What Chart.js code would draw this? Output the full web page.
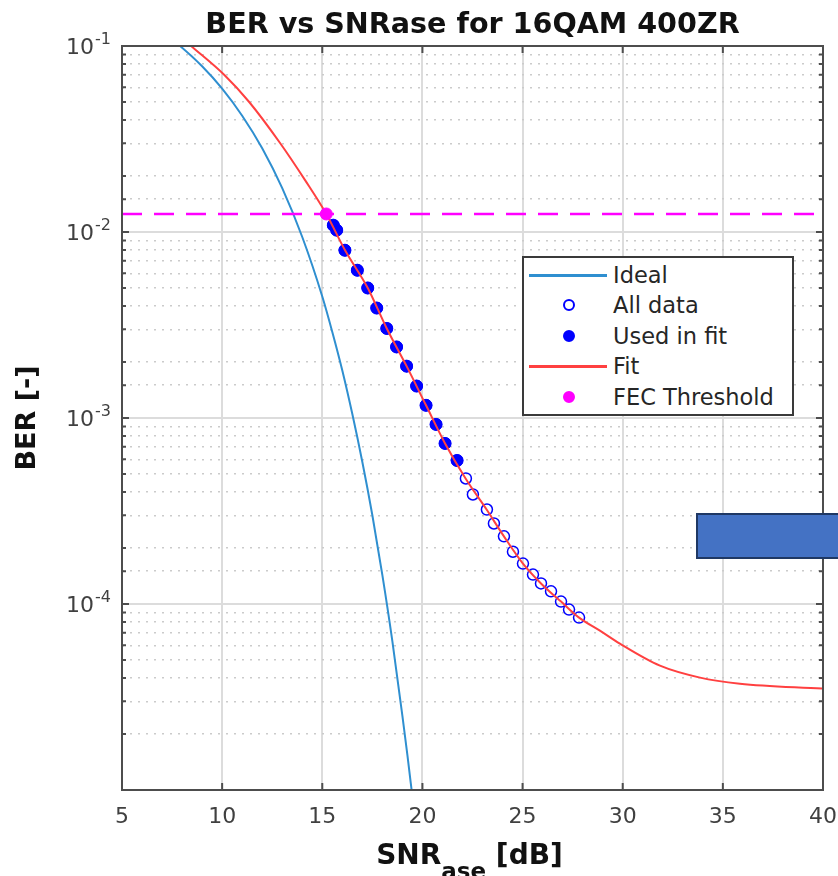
<!DOCTYPE html>
<html>
<head>
<meta charset="utf-8">
<script src="https://cdn.jsdelivr.net/npm/chart.js@4.4.1/dist/chart.umd.min.js"></script>
<style>
  html, body { margin: 0; padding: 0; background: #fff; }
  #wrap { position: relative; width: 838px; height: 876px; overflow: hidden; }
  #leyenda { position: absolute; left: 522px; top: 256px; width: 272px; height: 160px; box-sizing: border-box;
    border: 2px solid #3a3a3a; background: #fff; padding-top: 2px; font: 22.5px "DejaVu Sans", sans-serif; color: #262626; }
  .fila { position: relative; height: 30.4px; line-height: 30.4px; padding-left: 89px; white-space: nowrap; }
  .fila .linea { position: absolute; left: 5px; width: 78px; top: 14px; height: 2.5px; }
  .fila .marca { position: absolute; left: 39px; top: 9px; width: 12px; height: 12px; border-radius: 50%; box-sizing: border-box; }
  #caja { position: absolute; left: 696px; top: 513px; width: 160px; height: 46px; box-sizing: border-box;
    background: #4472c4; border: 2px solid #1f3864; }
</style>
</head>
<body>
<div id="wrap">
  <canvas id="grafica" width="838" height="876"></canvas>
  <div id="leyenda"></div>
  <div id="caja"></div>
</div>
<script>
/* BER vs SNRase, 16QAM 400ZR — curva ideal, medidas, ajuste y umbral FEC */
const FONT = '"DejaVu Sans", sans-serif';
const TITULO = "BER vs SNRase for 16QAM 400ZR";

// eje x (dB) y etiquetas del eje y (10^exp)
const xTicks = [5, 10, 15, 20, 25, 30, 35, 40];
const yDecadas = [1e-1, 1e-2, 1e-3, 1e-4];
const yExponentes = ["-1", "-2", "-3", "-4"];

// curva ideal
const idealSnr = [7.5, 7.9, 9, 10, 11, 12, 13, 14, 15, 15.5, 16, 16.5, 17, 17.5, 18, 18.5, 19, 19.25, 19.5];
const idealBer = [0.108, 0.1, 0.0778, 0.059, 0.0422, 0.0282, 0.0172, 0.0094, 0.0045, 0.0029, 0.0018, 0.00105,
  5.8e-4, 3.0e-4, 1.43e-4, 6.3e-5, 2.5e-5, 1.54e-5, 9.2e-6];

// medidas (las primeras nUsados entran en el ajuste)
const datosSnr = [15.55, 15.72, 16.13, 16.75, 17.27, 17.72, 18.22, 18.71, 19.21, 19.71, 20.18, 20.68, 21.13, 21.73,
  22.17, 22.52, 23.22, 23.57, 24.07, 24.52, 25.02, 25.52, 25.92, 26.42, 26.92, 27.32, 27.82];
const datosBer = [0.01088, 0.01023, 0.00798, 0.00623, 0.0050, 0.0039, 0.00303, 0.00241, 0.0019, 0.001485, 0.00117,
  0.000924, 0.00073, 0.000591, 0.000473, 0.000388, 0.000322, 0.000271, 0.000231, 0.000191, 0.000165, 0.000144,
  0.000129, 0.000117, 0.000103, 9.33e-5, 8.45e-5];
const nUsados = 14;

// curva de ajuste
const ajusteSnr = [8.45, 10.1, 11.35, 12.9, 14.14, 15.2, 16.13, 17.27, 18.22, 19.21, 20.18, 21.13, 22.17, 23.22,
  24.07, 25.02, 25.92, 26.92, 27.82, 28.86, 29.86, 31.86, 33.86, 35.85, 39.95];
const ajusteBer = [0.1, 0.07, 0.05, 0.03, 0.019, 0.0125, 0.0080, 0.0050, 0.00303, 0.0019, 0.00117, 0.00073, 0.00047,
  0.00032, 0.000231, 0.000165, 0.000129, 0.000103, 8.45e-5, 7.19e-5, 6.12e-5, 4.66e-5, 4.02e-5, 3.73e-5, 3.51e-5];

// umbral FEC
const fecSnr = [15.2];
const fecBer = [0.0125];

const pts = (xs, ys) => xs.map((x, i) => ({ x, y: ys[i] }));
const esDecada = (v) => Math.abs(Math.log10(v) - Math.round(Math.log10(v))) < 1e-6;

const AZUL_IDEAL = "#2f8fd0", ROJO = "#ff4040", AZUL = "#0000ff", MAGENTA = "#ff00ff";

/* marco, ticks hacia dentro, título y etiquetas con super/subíndices */
const marco = {
  id: "marco",
  afterDraw(chart) {
    const { ctx, chartArea: a, scales: { x, y } } = chart;
    ctx.save();
    ctx.strokeStyle = "#4d4d4d";
    ctx.lineWidth = 2;
    ctx.beginPath();
    x.ticks.forEach((t) => {
      const px = x.getPixelForValue(t.value);
      ctx.moveTo(px, a.bottom); ctx.lineTo(px, a.bottom - 7);
      ctx.moveTo(px, a.top); ctx.lineTo(px, a.top + 7);
    });
    y.ticks.forEach((t) => {
      const py = y.getPixelForValue(t.value);
      const len = esDecada(t.value) ? 7 : 4;
      ctx.moveTo(a.left, py); ctx.lineTo(a.left + len, py);
      ctx.moveTo(a.right, py); ctx.lineTo(a.right - len, py);
    });
    ctx.stroke();
    ctx.strokeRect(a.left, a.top, a.right - a.left, a.bottom - a.top);

    ctx.textBaseline = "alphabetic";
    // título centrado sobre el área de trazado
    ctx.fillStyle = "#111";
    ctx.font = "bold 28.6px " + FONT;
    ctx.textAlign = "center";
    ctx.fillText(TITULO, (a.left + a.right) / 2, 33);

    // etiquetas 10^n del eje y
    ctx.fillStyle = "#404040";
    ctx.textAlign = "left";
    yDecadas.forEach((d, i) => {
      const py = y.getPixelForValue(d);
      ctx.font = "16px " + FONT;
      const ws = ctx.measureText(yExponentes[i]).width;
      ctx.font = "22px " + FONT;
      const wb = ctx.measureText("10").width;
      const x0 = a.left - 12 - ws - wb;
      ctx.fillText("10", x0, py + 8);
      ctx.font = "16px " + FONT;
      ctx.fillText(yExponentes[i], x0 + wb + 1, py - 2);
    });

    // etiqueta del eje x con subíndice
    const fGrande = "bold 28px " + FONT, fSub = "bold 23px " + FONT;
    ctx.fillStyle = "#111";
    ctx.font = fGrande; const w1 = ctx.measureText("SNR").width, w3 = ctx.measureText(" [dB]").width;
    ctx.font = fSub; const w2 = ctx.measureText("ase").width;
    let xx = (a.left + a.right) / 2 - 3 - (w1 + w2 + w3) / 2;
    ctx.font = fGrande; ctx.fillText("SNR", xx, 864); xx += w1;
    ctx.font = fSub; ctx.fillText("ase", xx, 879); xx += w2;
    ctx.font = fGrande; ctx.fillText(" [dB]", xx, 864);
    ctx.restore();
  },
};

Chart.defaults.font.family = FONT;

const chart = new Chart(document.getElementById("grafica"), {
  type: "scatter",
  data: {
    datasets: [
      { label: "Ideal", data: pts(idealSnr, idealBer), showLine: true, borderColor: AZUL_IDEAL, borderWidth: 2,
        pointRadius: 0, cubicInterpolationMode: "monotone", order: 5 },
      { label: "All data", data: pts(datosSnr, datosBer), pointRadius: 5.5, borderWidth: 1.5,
        borderColor: AZUL, backgroundColor: "rgba(0,0,0,0)", order: 4 },
      { label: "Used in fit", data: pts(datosSnr.slice(0, nUsados), datosBer.slice(0, nUsados)), pointRadius: 6,
        borderWidth: 1, borderColor: AZUL, backgroundColor: AZUL, order: 3 },
      { label: "Fit", data: pts(ajusteSnr, ajusteBer), showLine: true, borderColor: ROJO, borderWidth: 2,
        pointRadius: 0, cubicInterpolationMode: "monotone", order: 1 },
      { label: "FEC Threshold", data: pts(fecSnr, fecBer), pointRadius: 6, borderWidth: 1,
        borderColor: MAGENTA, backgroundColor: MAGENTA, order: 0 },
      { data: [{ x: xTicks[0], y: fecBer[0] }, { x: xTicks[xTicks.length - 1], y: fecBer[0] }], showLine: true,
        borderColor: MAGENTA, borderWidth: 2.5, borderDash: [20, 12], pointRadius: 0, order: 2 },
    ],
  },
  options: {
    responsive: false,
    animation: false,
    layout: { padding: { left: 0, right: 15, top: 46, bottom: 0 } },
    plugins: {
      legend: { display: false },
      tooltip: { enabled: false },
      title: { display: false },
    },
    scales: {
      x: {
        type: "linear", min: 5, max: 40,
        afterBuildTicks: (s) => { s.ticks = xTicks.map((v) => ({ value: v })); },
        afterFit: (s) => { s.height = 86; s.paddingLeft = 0; s.paddingRight = 0; },
        grid: { color: "#dcdcdc", lineWidth: 2, drawTicks: false },
        border: { display: false },
        ticks: { padding: 14, color: "#404040", font: { size: 22 }, maxRotation: 0, autoSkip: false },
      },
      y: {
        type: "logarithmic", min: 1e-5, max: 1e-1,
        afterFit: (s) => { s.width = 122; s.paddingTop = 0; s.paddingBottom = 0; },
        grid: {
          drawTicks: false,
          color: (c) => (esDecada(c.tick.value) ? "#dcdcdc" : "#cbcbcb"),
          lineWidth: (c) => (esDecada(c.tick.value) ? 2 : 1.5),
        },
        border: { display: false, dash: (c) => (c.tick && esDecada(c.tick.value) ? [] : [2, 6]) },
        ticks: { autoSkip: false, callback: () => "" },
        title: { display: true, text: "BER [-]", color: "#111", font: { size: 27, weight: "bold" }, padding: { top: 11.8 } },
      },
    },
  },
  plugins: [marco],
});

/* ---------------- leyenda HTML ---------------- */
function pintarLeyenda() {
  const caja = document.getElementById("leyenda");
  caja.innerHTML = chart.data.datasets.filter((d) => d.label).map((d) => {
    const muestra = d.showLine
      ? `<span class="linea" style="background:${d.borderColor}"></span>`
      : `<span class="marca" style="border:2px solid ${d.borderColor};background:${d.backgroundColor}"></span>`;
    return `<div class="fila">${muestra}${d.label}</div>`;
  }).join("");
}
pintarLeyenda();
</script>
</body>
</html>
